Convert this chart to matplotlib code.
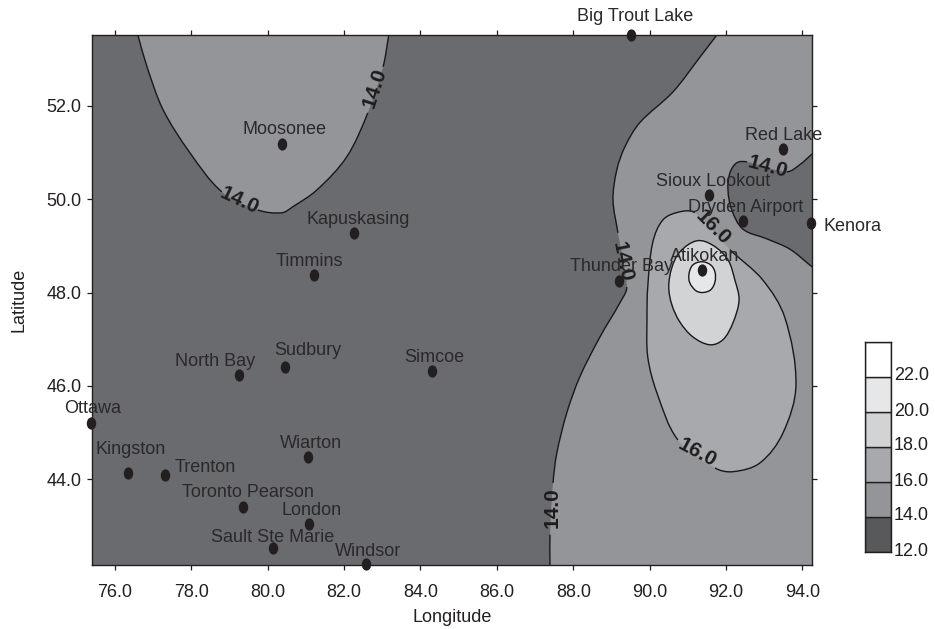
import numpy as np
import matplotlib
matplotlib.use('Agg')
import matplotlib.pyplot as plt
from matplotlib.path import Path
from matplotlib.patches import PathPatch
from matplotlib.markers import MarkerStyle
from matplotlib.transforms import Affine2D, ScaledTranslation

plt.rcParams['font.family'] = ['Liberation Sans', 'DejaVu Sans']

# Stations
stations = ['Big Trout Lake', 'Moosonee', 'Red Lake', 'Sioux Lookout', 'Dryden Airport', 'Kenora',
            'Kapuskasing', 'Timmins', 'Atikokan', 'Thunder Bay', 'Simcoe', 'Sudbury', 'North Bay',
            'Ottawa', 'Wiarton', 'Kingston', 'Trenton', 'Toronto Pearson', 'London',
            'Sault Ste Marie', 'Windsor']
station_lon = [89.51, 80.37, 93.49, 91.55, 92.44, 94.22, 82.26, 81.21, 91.37, 89.19, 84.30,
               80.45, 79.25, 75.37, 81.05, 76.34, 77.31, 79.36, 81.08, 80.14, 82.57]
station_lat = [53.52, 51.19, 51.08, 50.09, 49.53, 49.49, 49.28, 48.38, 48.49, 48.25, 46.32,
               46.41, 46.24, 45.21, 44.48, 44.13, 44.09, 43.41, 43.04, 42.53, 42.18]
# label offsets from the station dot, pixels
label_dx = [4, 3, 1, 4, 3, 42, 4, -5, 3, 3, 2, 23, -24, 2, 3, 3, 40, 4.5, 3, 0, 2]
label_dy = [18, 14, 13, 14, 14, -3, 13, 13, 13, 14, 13, 16, 13, 14, 13, 24, 7, 14, 13, 10, 13]

# Contour lines
c14_main_lon = [87.39, 87.39, 87.47, 87.57, 87.83, 88.17, 88.70, 89.22, 89.40, 89.17, 89.04,
                89.14, 89.35, 89.74, 90.61, 91.32, 91.76]
c14_main_lat = [42.16, 42.81, 43.92, 44.56, 45.42, 46.19, 47.05, 47.78, 48.12, 49.28, 49.99,
                50.63, 51.12, 51.64, 52.30, 53.05, 53.52]
c14_north_lon = [76.60, 76.84, 77.26, 77.96, 78.80, 79.74, 80.37, 80.66, 81.29, 82.07, 82.62, 83.02, 83.17]
c14_north_lat = [53.52, 52.84, 51.92, 51.00, 50.16, 49.77, 49.71, 49.84, 50.20, 50.91, 51.85, 52.84, 53.52]
c14_east_lon = [94.25, 93.93, 93.59, 92.55, 92.28, 92.10, 92.05, 92.15, 92.44, 93.07, 93.67, 94.25]
c14_east_lat = [50.97, 50.74, 50.59, 50.80, 50.78, 50.56, 50.20, 49.77, 49.36, 49.15, 48.93, 48.55]
c16_lon = [91.18, 92.10, 92.96, 93.54, 93.83, 93.49, 92.89, 92.18, 91.71, 90.74, 90.19, 89.95,
           89.93, 89.95, 90.08, 90.35, 90.79]
c16_lat = [49.71, 48.92, 48.27, 47.46, 46.02, 44.99, 44.35, 44.16, 44.24, 44.84, 45.85, 46.62,
           47.46, 48.12, 49.07, 49.56, 49.73]
c18_lon = [91.24, 90.79, 90.58, 90.50, 90.58, 90.79, 91.13, 91.58, 91.92, 92.18, 92.34, 92.23, 92.05, 91.66]
c18_lat = [49.11, 48.87, 48.53, 48.12, 47.74, 47.37, 47.05, 46.88, 46.99, 47.35, 47.84, 48.27, 48.70, 49.01]
c20_lon = [91.37, 91.13, 91.03, 91.05, 91.21, 91.39, 91.60, 91.71, 91.71, 91.60]
c20_lat = [48.66, 48.59, 48.40, 48.21, 48.04, 48.00, 48.06, 48.23, 48.44, 48.59]

# Contour labels
clabel_text = ['14.0', '14.0', '14.0', '14.0', '14.0', '16.0', '16.0']
clabel_lon = [82.81, 79.27, 93.09, 89.27, 87.44, 91.66, 91.24]
clabel_lat = [52.39, 49.97, 50.70, 48.65, 43.39, 49.39, 44.56]
clabel_rot = [72, -25, -15, -78, 90, -45, -28]

# Colour bar
levels = [12, 14, 16, 18, 20, 22, 24]
level_colors = ['#58595b', '#939598', '#a7a9ac', '#d1d3d4', '#e6e7e8', '#ffffff']
bar_ticks = [12, 14, 16, 18, 20, 22]

x_ticks = [76, 78, 80, 82, 84, 86, 88, 90, 92, 94]
y_ticks = [44, 46, 48, 50, 52]

INK = '#231f20'
DARK = '#6a6b6e'
ASPECT = 46.65 / 38.2  # pixels per degree, lat over lon


def smooth_segments(xs, ys, closed=False):
    # hermite through the points, handles scaled to each segment so uneven spacing stays smooth
    p = np.column_stack([xs, np.array(ys) * ASPECT])
    n = len(p)
    tang = []
    for i in range(n):
        if closed:
            d = p[(i + 1) % n] - p[(i - 1) % n]
        else:
            d = p[min(i + 1, n - 1)] - p[max(i - 1, 0)]
        tang.append(d / np.hypot(*d))
    segs = []
    for i in range(n if closed else n - 1):
        a, b = p[i], p[(i + 1) % n]
        k = np.hypot(*(b - a)) / 3
        seg = (a, a + tang[i] * k, b - tang[(i + 1) % n] * k, b)
        segs.append(tuple(q / [1, ASPECT] for q in seg))
    return segs


def draw_contour(ax, xs, ys, color, closed=False, extra=(), gaps=()):
    segs = smooth_segments(xs, ys, closed)
    # fill
    verts = [segs[0][0]]
    codes = [Path.MOVETO]
    for s in segs:
        verts += list(s[1:])
        codes += [Path.CURVE4] * 3
    for e in extra:
        verts.append(e)
        codes.append(Path.LINETO)
    ax.add_patch(PathPatch(Path(np.array(verts), codes), fc=color, ec='none', zorder=1))
    # line, left open where a label sits
    verts = []
    codes = []
    pen_down = False
    for i, s in enumerate(segs):
        if i in gaps:
            pen_down = False
            continue
        if not pen_down:
            verts.append(s[0])
            codes.append(Path.MOVETO)
        verts += list(s[1:])
        codes += [Path.CURVE4] * 3
        pen_down = True
    ax.add_patch(PathPatch(Path(np.array(verts), codes), fc='none', ec='#1a1718', lw=1.0, zorder=2))


fig = plt.figure(figsize=(9.35, 6.29), dpi=100)
ax = fig.add_axes([92 / 935, 1 - 565 / 629, 720 / 935, 530 / 629])
ax.set_facecolor(DARK)
ax.set_xlim(75.4, 94.25)
ax.set_ylim(42.16, 53.52)

xmin, xmax = ax.get_xlim()
ymin, ymax = ax.get_ylim()

draw_contour(ax, c14_north_lon, c14_north_lat, '#939598', gaps=(4, 10))
draw_contour(ax, c14_main_lon, c14_main_lat, '#939598', extra=[(xmax, ymax), (xmax, ymin)], gaps=(1, 8))
draw_contour(ax, c14_east_lon, c14_east_lat, DARK, gaps=(2,))
draw_contour(ax, c16_lon, c16_lat, '#a7a9ac', closed=True, gaps=(0, 8))
draw_contour(ax, c18_lon, c18_lat, '#d1d3d4', closed=True)
draw_contour(ax, c20_lon, c20_lat, '#e6e7e8', closed=True)

for t, x, y, r in zip(clabel_text, clabel_lon, clabel_lat, clabel_rot):
    ax.text(x, y, t, rotation=r, rotation_mode='anchor', ha='center', va='center',
            fontsize=15, fontweight='bold', color='#1f1c1d', zorder=3)

dot = MarkerStyle('o', transform=Affine2D().scale(1, 1.3))
ax.plot(station_lon, station_lat, linestyle='none', marker=dot, color=INK, ms=6.8, mew=0,
        clip_on=False, zorder=5)
for name, x, y, dx, dy in zip(stations, station_lon, station_lat, label_dx, label_dy):
    ax.annotate(name, (x, y), xytext=(dx, dy), textcoords='offset pixels', ha='center', va='center',
                fontsize=13, color='#2b2829', annotation_clip=False, zorder=6)

ax.set_xticks(x_ticks)
ax.set_yticks(y_ticks)
ax.set_xticklabels([f'{v:.1f}' for v in x_ticks])
ax.set_yticklabels([f'{v:.1f}' for v in y_ticks])
ax.tick_params(top=True, right=True, direction='out', length=3.5, width=0.9, color=INK,
               labelsize=13, labelcolor=INK)
ax.tick_params(axis='x', pad=10)
ax.tick_params(axis='y', pad=4)
for s in ax.spines.values():
    s.set_linewidth(1.0)
    s.set_color(INK)
ax.set_xlabel('Longitude', fontsize=13, color=INK, labelpad=6)
ax.set_ylabel('Latitude', fontsize=13, color=INK, labelpad=14)

# colour bar
cax = fig.add_axes([865 / 935, 1 - 552 / 629, 26 / 935, 210 / 629])
cax.bar(0, np.diff(levels), bottom=levels[:-1], width=1, color=level_colors, edgecolor=INK, linewidth=1.0)
cax.set_xlim(-0.5, 0.5)
cax.set_ylim(12, 24)
cax.set_xticks([])
cax.yaxis.tick_right()
cax.set_yticks(bar_ticks)
cax.set_yticklabels([f'{v:.1f}' for v in bar_ticks])
cax.tick_params(axis='y', length=0, labelsize=13, labelcolor=INK, pad=2)
shift = ScaledTranslation(0, 3 / 100, fig.dpi_scale_trans)
for lab in cax.get_yticklabels():
    lab.set_transform(lab.get_transform() + shift)
for s in cax.spines.values():
    s.set_linewidth(1.0)
    s.set_color(INK)

fig.savefig('out.png', dpi=100)
